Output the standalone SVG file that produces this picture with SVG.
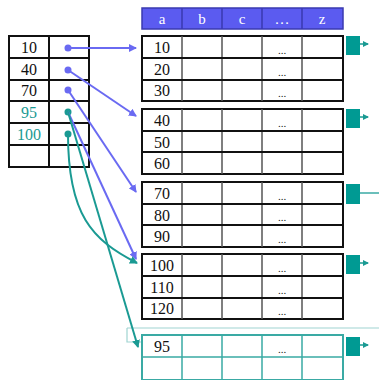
<svg xmlns="http://www.w3.org/2000/svg" width="379" height="380" viewBox="0 0 379 380">
<style>
.t{font-family:"Liberation Serif",serif;font-size:16px;fill:#111;text-anchor:middle}
.tt{font-family:"Liberation Serif",serif;font-size:16px;fill:#1a9a93;text-anchor:middle}
.h{font-family:"Liberation Serif",serif;font-size:15px;fill:#fff;text-anchor:middle}
.d{font-family:"Liberation Serif",serif;font-size:11px;fill:#222;text-anchor:middle}
.hl{stroke:#111;stroke-width:2;fill:none}
.vl{stroke:#555;stroke-width:1.5;fill:none}
.box{fill:#fff;stroke:#111;stroke-width:2}
.tbox{fill:#fff;stroke:#3aaaa4;stroke-width:2}
.tl{stroke:#3aaaa4;stroke-width:1.5;fill:none}
.ptr{fill:#009a93}
.pa{stroke:#6a6af2;stroke-width:2;fill:none;marker-end:url(#ap)}
.ta{stroke:#1a9a93;stroke-width:2;fill:none;marker-end:url(#at)}
.sa{stroke:#1a9a93;stroke-width:1.5;fill:none}
</style>
<defs>
<marker id="ap" markerWidth="8" markerHeight="8" refX="7" refY="4" orient="auto" markerUnits="userSpaceOnUse"><path d="M0,0 L8,4 L0,8 z" fill="#6a6af2"/></marker>
<marker id="at" markerWidth="8" markerHeight="8" refX="7" refY="4" orient="auto" markerUnits="userSpaceOnUse"><path d="M0,0 L8,4 L0,8 z" fill="#1a9a93"/></marker>
<marker id="as" markerWidth="6" markerHeight="6" refX="5" refY="3" orient="auto" markerUnits="userSpaceOnUse"><path d="M0,0 L6,3 L0,6 z" fill="#1a9a93"/></marker>
</defs>
<rect width="379" height="380" fill="#fff"/>

<g id="header">
<rect x="142" y="8" width="201" height="21" fill="#5b5bf0" stroke="#3a3ab0" stroke-width="1.5"/>
<path d="M182,8V29M222,8V29M262,8V29M302,8V29" stroke="#3a3ab0" stroke-width="1.5"/>
<text class="h" x="162" y="24">a</text>
<text class="h" x="202" y="24">b</text>
<text class="h" x="242" y="24">c</text>
<text class="h" x="282" y="24">…</text>
<text class="h" x="322" y="24">z</text>
</g>

<g id="index">
<rect class="box" x="9" y="36" width="80" height="131" stroke-width="1.5"/>
<path class="hl" d="M9,58H89M9,80H89M9,101H89M9,123H89M9,145H89" stroke-width="1.5"/>
<path class="hl" d="M49,36V167" stroke-width="1.5"/>
<text class="t" x="29" y="53">10</text>
<text class="t" x="29" y="75">40</text>
<text class="t" x="29" y="96">70</text>
<text class="tt" x="29" y="118">95</text>
<text class="tt" x="29" y="140">100</text>
<circle cx="68" cy="48" r="3.5" fill="#6a6af2"/>
<circle cx="68" cy="70" r="3.5" fill="#6a6af2"/>
<circle cx="68" cy="90" r="3.5" fill="#6a6af2"/>
<circle cx="68" cy="112" r="3.5" fill="#1a9a93"/>
<circle cx="68" cy="134" r="3.5" fill="#1a9a93"/>
</g>

<g id="block1">
<rect class="box" x="142" y="36" width="201" height="65"/>
<path class="vl" d="M182,36V101M222,36V101M262,36V101M302,36V101"/>
<path class="hl" d="M142,58H343M142,80H343"/>
<text class="t" x="162" y="53">10</text>
<text class="t" x="162" y="75">20</text>
<text class="t" x="162" y="96">30</text>
<text class="d" x="282" y="54">...</text>
<text class="d" x="282" y="76">...</text>
<text class="d" x="282" y="97">...</text>
<rect class="ptr" x="346" y="36" width="14" height="19"/>
<path class="sa" d="M360,44H368" marker-end="url(#as)"/>
</g>

<g id="block2">
<rect class="box" x="142" y="109" width="201" height="65"/>
<path class="vl" d="M182,109V174M222,109V174M262,109V174M302,109V174"/>
<path class="hl" d="M142,131H343M142,152H343"/>
<text class="t" x="162" y="126">40</text>
<text class="t" x="162" y="148">50</text>
<text class="t" x="162" y="169">60</text>
<text class="d" x="282" y="127">...</text>
<rect class="ptr" x="346" y="109" width="14" height="19"/>
<path class="sa" d="M360,117H368" marker-end="url(#as)"/>
</g>

<g id="block3">
<rect class="box" x="142" y="182" width="201" height="65"/>
<path class="vl" d="M182,182V247M222,182V247M262,182V247M302,182V247"/>
<path class="hl" d="M142,204H343M142,225H343"/>
<text class="t" x="162" y="199">70</text>
<text class="t" x="162" y="221">80</text>
<text class="t" x="162" y="242">90</text>
<text class="d" x="282" y="200">...</text>
<text class="d" x="282" y="221">...</text>
<text class="d" x="282" y="243">...</text>
<rect class="ptr" x="346" y="184" width="14" height="20"/>
<path class="tl" d="M360,193H379"/>
</g>

<g id="block4">
<rect class="box" x="142" y="254" width="201" height="65"/>
<path class="vl" d="M182,254V319M222,254V319M262,254V319M302,254V319"/>
<path class="hl" d="M142,276H343M142,298H343"/>
<text class="t" x="162" y="271">100</text>
<text class="t" x="162" y="293">110</text>
<text class="t" x="162" y="314">120</text>
<text class="d" x="282" y="272">...</text>
<text class="d" x="282" y="294">...</text>
<text class="d" x="282" y="315">...</text>
<rect class="ptr" x="346" y="255" width="14" height="19"/>
<path class="sa" d="M360,263H368" marker-end="url(#as)"/>
</g>

<g id="block5">
<path d="M127,328H379M127,328V342H142" stroke="#9fd4d1" stroke-width="1.2" fill="none"/>
<rect class="tbox" x="142" y="335" width="201" height="45"/>
<path class="tl" d="M182,335V380M222,335V380M262,335V380M302,335V380M142,357H343"/>
<text class="t" x="162" y="352">95</text>
<text class="d" x="282" y="353">...</text>
<rect class="ptr" x="346" y="337" width="14" height="19"/>
<path class="sa" d="M360,345H368" marker-end="url(#as)"/>
</g>

<g id="connectors">
<path class="pa" d="M68,48L136,48"/>
<path class="pa" d="M68,70L136,116"/>
<path class="pa" d="M68,90L136,192"/>
<path class="pa" d="M68,112L136,259"/>
<path class="ta" d="M68,112L138,347"/>
<path class="ta" d="M68,134C68,215 92,240 137,263"/>
</g>
</svg>
